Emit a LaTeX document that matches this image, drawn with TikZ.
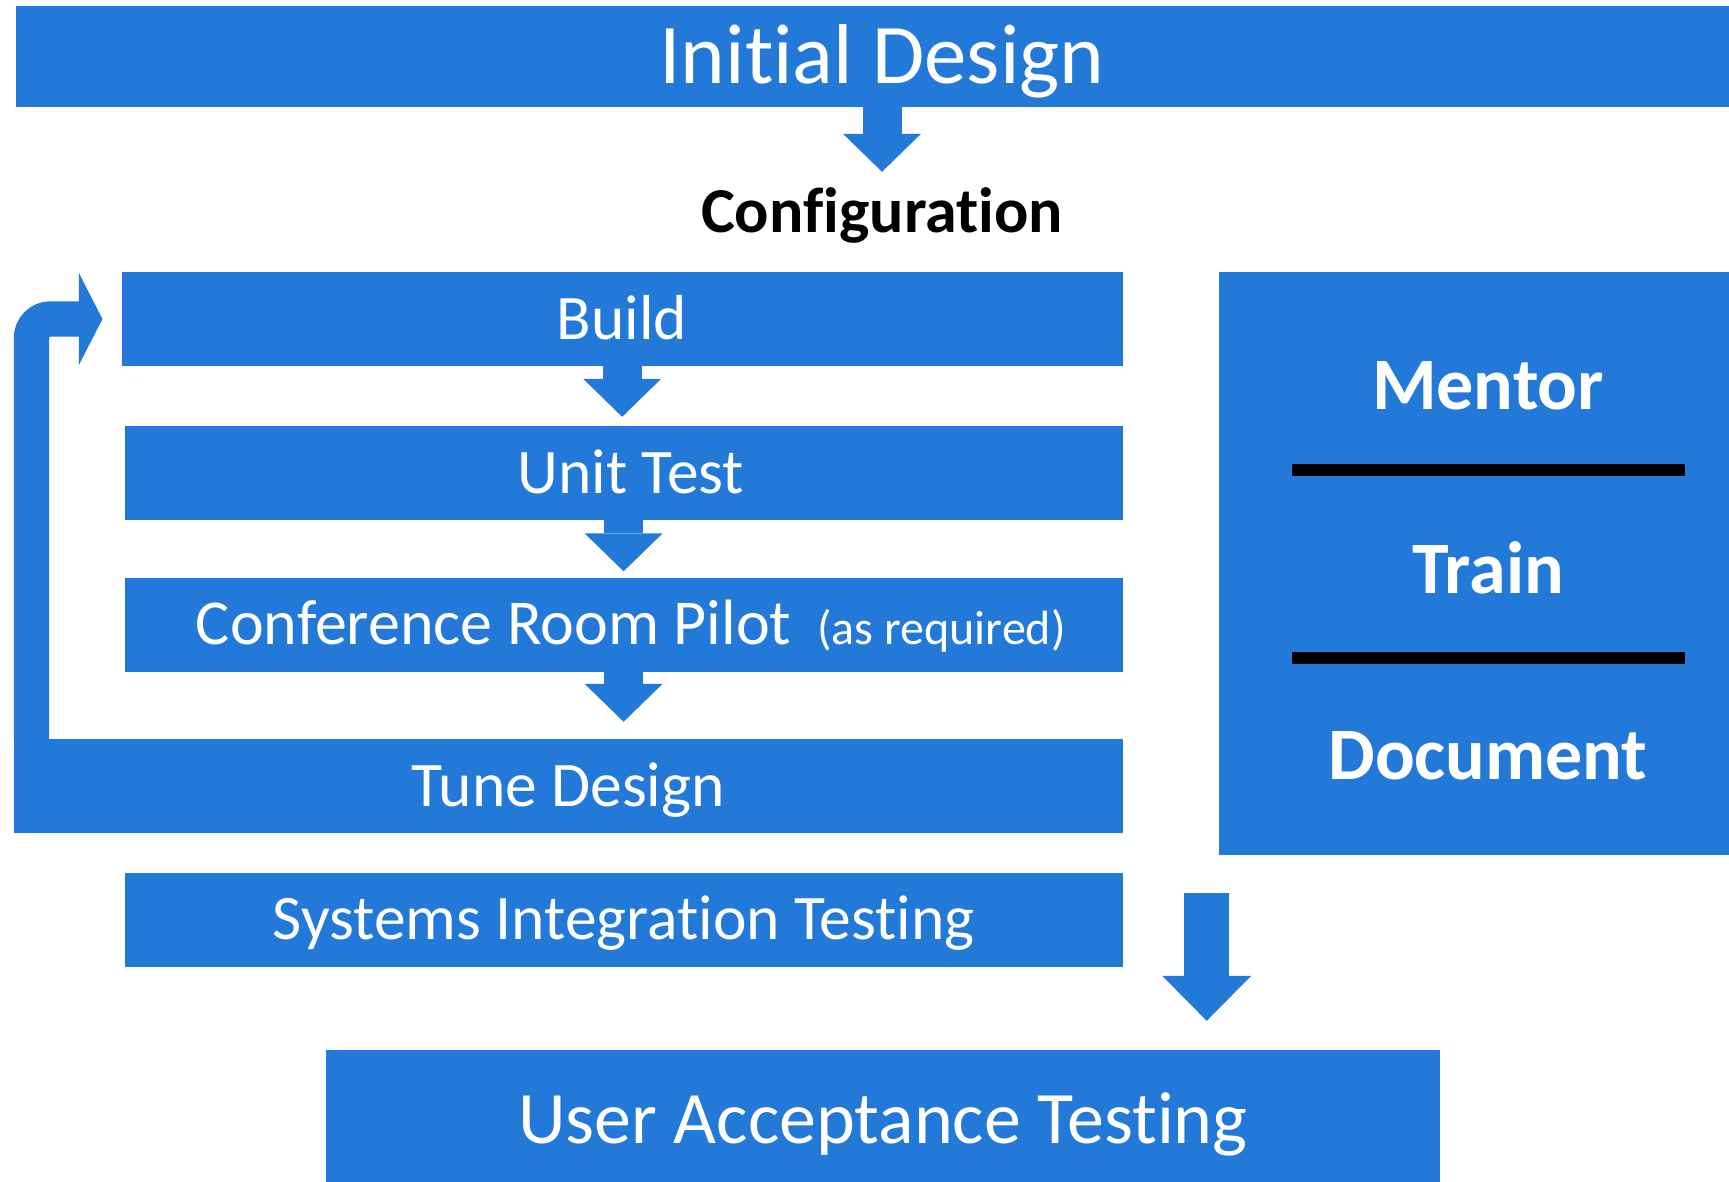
\documentclass[tikz,border=0pt]{standalone}
\usepackage{fontspec}
\setmainfont{Carlito}[Ligatures=NoCommon]
\usetikzlibrary{arrows.meta}
\definecolor{flowblue}{RGB}{34,121,216}
\tikzset{
	stage/.style={fill=flowblue, text=white, inner sep=0pt, minimum height=94pt, text height=40pt, text depth=0pt, font=\fontsize{63.5pt}{70pt}\selectfont},
	flow/.style={draw=flowblue, line width=39pt, -{Triangle[length=38pt,width=78pt,line width=0pt]}},
	duty/.style={text=white, inner sep=0pt, text height=47pt, text depth=0pt, font=\bfseries\fontsize{74pt}{80pt}\selectfont},
}
\begin{document}
\begin{tikzpicture}[x=1pt,y=-1pt]
			\clip (0,0) rectangle (1729,1181);
			\node[stage, minimum width=1732pt, minimum height=101pt, text height=54pt, font=\fontsize{85pt}{90pt}\selectfont] (initial) at (882,56.5) {Initial Design};
			\node[inner sep=0pt, text height=40.6pt, text depth=0pt, font=\bfseries\fontsize{64pt}{70pt}\selectfont] (config) at (882,212) {Configuration};
			\node[stage, minimum width=1001pt] (build) at (622.15,319) {Build};
			\node[stage, minimum width=998pt] (unittest) at (623.6,473) {\ Unit Test};
			\node[stage, minimum width=998pt, font=\fontsize{64pt}{70pt}\selectfont] (crp) at (623.6,624.5) {\ Conference Room Pilot\hspace{26pt}{\fontsize{48pt}{54pt}\selectfont (as required)}};
			\node[stage, minimum width=1108.6pt] (tune) at (568.3,786) {Tune Design};
			\node[stage, minimum width=998pt] (sit) at (623.6,919.8) {Systems Integration Testing};
			\node[stage, minimum width=1114.5pt, minimum height=140pt, text height=46.7pt, font=\fontsize{74pt}{80pt}\selectfont] (uat) at (882.75,1120) {User Acceptance Testing};
			\node[fill=flowblue, inner sep=0pt, minimum width=541pt, minimum height=582.5pt] (panel) at (1489.5,563.25) {};
			\node[duty] (mentor) at (1488,386.3) {Mentor};
			\node[duty] (train) at (1488,570) {Train};
			\node[duty] (document) at (1488,756) {Document};
			\draw[line width=12pt] (1292,470) -- (1684.5,470);
			\draw[line width=12pt] (1292,658) -- (1684.5,658);
			\draw[flow, shorten >=19.7pt] (initial.south) -- (config.north);
			\draw[flow, shorten >=9pt] (build.south) -- (build.south |- unittest.north);
			\draw[flow, shorten >=6pt] (unittest.south) -- (unittest.south |- crp.north);
			\draw[flow, shorten >=17pt] (crp.south) -- (crp.south |- tune.north);
			\coordinate (handoff) at (1206.7,893);
			\draw[flow, line width=45pt, -{Triangle[length=45pt,width=89pt,line width=0pt]}, shorten >=29pt] (handoff) -- (handoff |- uat.north);
			\draw[flowblue, line width=35.3pt, rounded corners=19pt, -{Triangle[length=23.7pt,width=92.5pt,line width=0pt]}, shorten >=19pt] ([xshift=17.65pt]tune.north west) |- (build.west);
\end{tikzpicture}
\end{document}
